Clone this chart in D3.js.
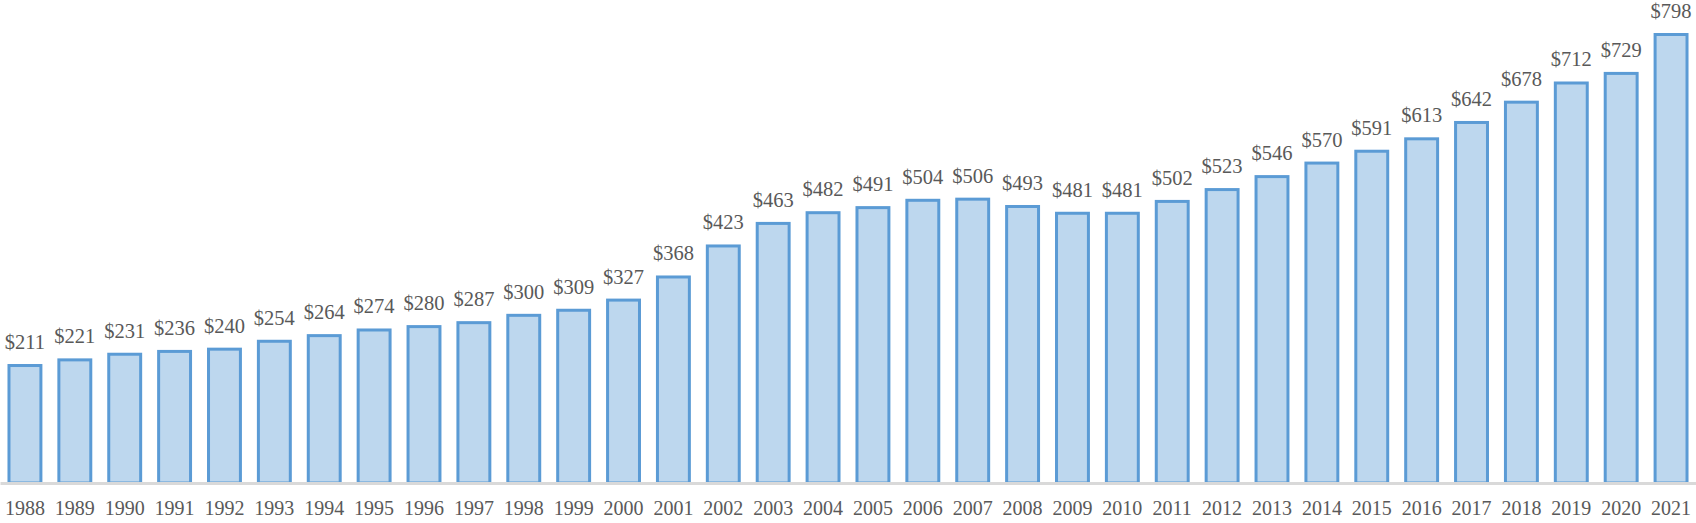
<!DOCTYPE html>
<html><head><meta charset="utf-8">
<script src="https://cdn.jsdelivr.net/npm/d3@7"></script>
<style>html,body{margin:0;padding:0;background:#fff;}svg{display:block;}</style>
</head><body>
<svg id="chart" width="1696" height="523"></svg>
<script>
const years = ["1988","1989","1990","1991","1992","1993","1994","1995","1996","1997","1998","1999","2000","2001","2002","2003","2004","2005","2006","2007","2008","2009","2010","2011","2012","2013","2014","2015","2016","2017","2018","2019","2020","2021"];
const values = [211,221,231,236,240,254,264,274,280,287,300,309,327,368,423,463,482,491,504,506,493,481,481,502,523,546,570,591,613,642,678,712,729,798];

const W = 1696, H = 523;
const svg = d3.select("#chart");
const baseY = 483;
const x = d3.scaleBand().domain(years).range([0, W]).paddingInner(0.3).paddingOuter(0.15);
const y = d3.scaleLinear().domain([0, 798]).range([baseY, 33]);

svg.append("g").selectAll("rect").data(values).join("rect")
  .attr("x", (d,i) => x(years[i]) + 1.5)
  .attr("width", x.bandwidth() - 3)
  .attr("y", d => y(d) + 1.5)
  .attr("height", d => baseY - y(d) - 1.5)
  .attr("fill", "#BDD7EE")
  .attr("stroke", "#5B9BD5")
  .attr("stroke-width", 3);

svg.append("g").selectAll("text").data(values).join("text")
  .attr("x", (d,i) => x(years[i]) + x.bandwidth()/2)
  .attr("y", d => y(d) - 15)
  .attr("text-anchor", "middle")
  .attr("font-family", "'Liberation Serif','Times New Roman',serif")
  .attr("font-size", 20.5)
  .attr("fill", "#595959")
  .text(d => "$" + d);

const axis = d3.axisBottom(x).tickSize(0).tickPadding(0);
const gA = svg.append("g").attr("transform", `translate(0,${baseY})`).call(axis);
gA.select(".domain").attr("stroke", "#D9D9D9").attr("stroke-width", 3);
gA.selectAll("text")
  .attr("dy", null)
  .attr("y", 32)
  .attr("font-family", "'Liberation Serif','Times New Roman',serif")
  .attr("font-size", 20)
  .attr("fill", "#595959");
</script>
</body></html>
